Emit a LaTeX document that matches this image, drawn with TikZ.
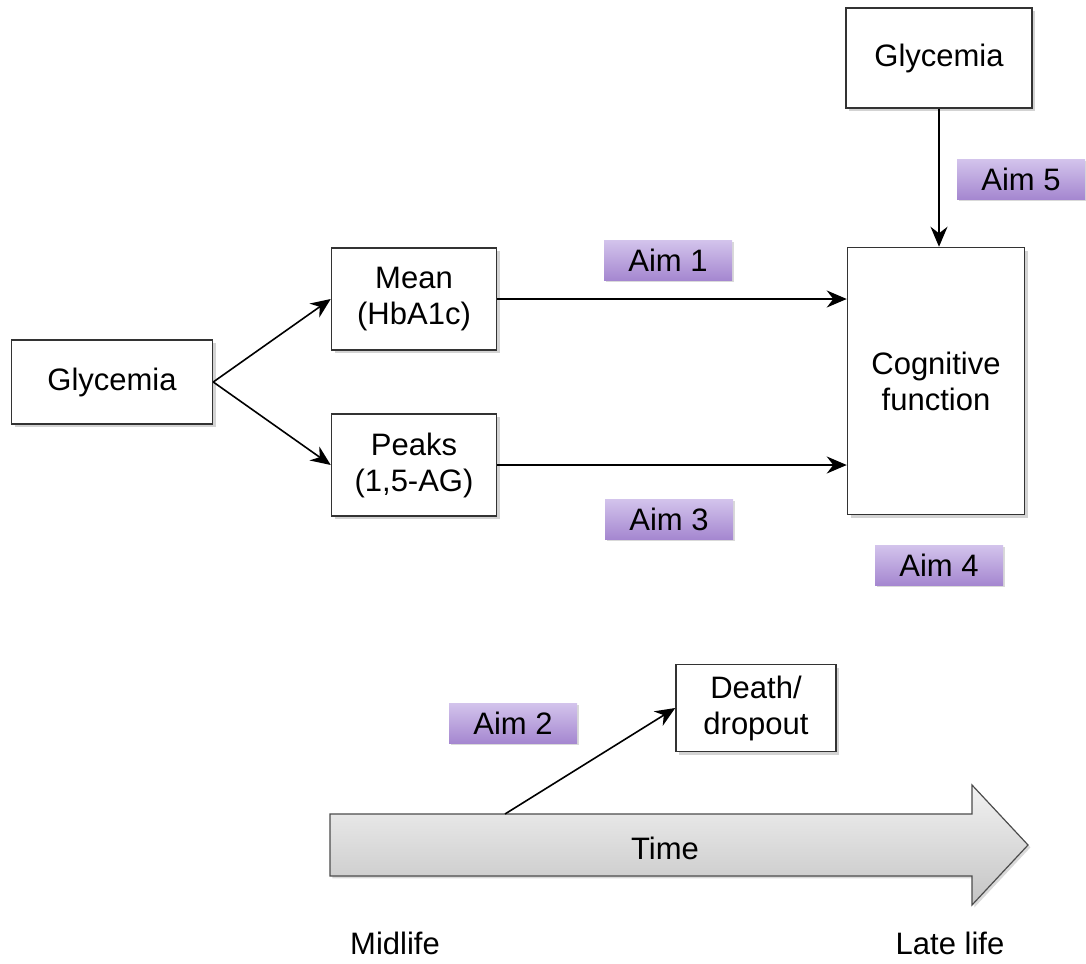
\documentclass[tikz,border=0pt]{standalone}
\usepackage{fontspec}
\setmainfont{Liberation Sans}
\usetikzlibrary{positioning, arrows.meta, shadows}

\definecolor{aimtop}{HTML}{D3C4EC}
\definecolor{aimbot}{HTML}{A587D0}
\definecolor{timetop}{HTML}{F2F2F2}
\definecolor{timebot}{HTML}{C4C4C4}

\begin{document}
\begin{tikzpicture}[x=0.5pt,y=-0.5pt,font=\fontsize{15.5}{18}\selectfont]
\tikzstyle{every node}=[align=center]
\tikzstyle{box}=[draw=black!80, line width=0.75pt, fill=white, inner sep=0pt,
  drop shadow={shadow xshift=1.5pt, shadow yshift=-1.5pt, opacity=0.35}]
\tikzstyle{aim}=[top color=aimtop, bottom color=aimbot, inner sep=0pt,
  minimum width=64pt, minimum height=20pt,
  drop shadow={shadow xshift=1pt, shadow yshift=-1.2pt, opacity=0.3}]
\tikzstyle{link}=[draw=black, line width=0.8pt, -{Stealth[length=10pt,width=8.5pt]}]

\useasboundingbox (0,0) rectangle (1086,963);

% boxes
\node[box, minimum width=100.5pt, minimum height=42pt] (G) at (112,382) {Glycemia};
\node[box, minimum width=82.5pt, minimum height=51pt] (M) at (414,299) {Mean\\(HbA1c)};
\node[box, minimum width=82.5pt, minimum height=51pt] (P) at (414,465) {Peaks\\(1,5-AG)};
\node[box, minimum width=88.5pt, minimum height=133.5pt] (C) at (936,381) {Cognitive\\function};
\node[box, minimum width=93pt, minimum height=50pt] (GL) at (939,58) {Glycemia};
\node[box, minimum width=80pt, minimum height=43.5pt] (D) at (756,708) {Death/\\dropout};

% aims
\node[aim] (A1) at (668,260) {Aim 1};
\node[aim] (A2) at (513,723) {Aim 2};
\node[aim] (A3) at (669,519) {Aim 3};
\node[aim] (A4) at (939,565) {Aim 4};
\node[aim] (A5) at (1021,179) {Aim 5};

% time arrow
\draw[draw=black!70, line width=0.6pt, top color=timetop, bottom color=timebot,
  drop shadow={shadow xshift=1.2pt, shadow yshift=-1.2pt, opacity=0.3}]
  (330,814) -- (972,814) -- (972,785) -- (1028,845) -- (972,905) -- (972,876)
  -- (330,876) -- cycle;
\node (T) at (665,848) {Time};
\coordinate (t0) at (505,814);
\node (ML) at (395,943) {Midlife};
\node (LL) at (950,943) {Late life};

% connectors
\draw[link] (G.east) -- (M.west);
\draw[link] (G.east) -- (P.west);
\draw[link] (M.east) -- (C.west |- M.east);
\draw[link] (P.east) -- (C.west |- P.east);
\draw[link] (GL.south) -- (C.north -| GL.south);
\draw[link] (t0) -- (D.west);
\end{tikzpicture}
\end{document}
